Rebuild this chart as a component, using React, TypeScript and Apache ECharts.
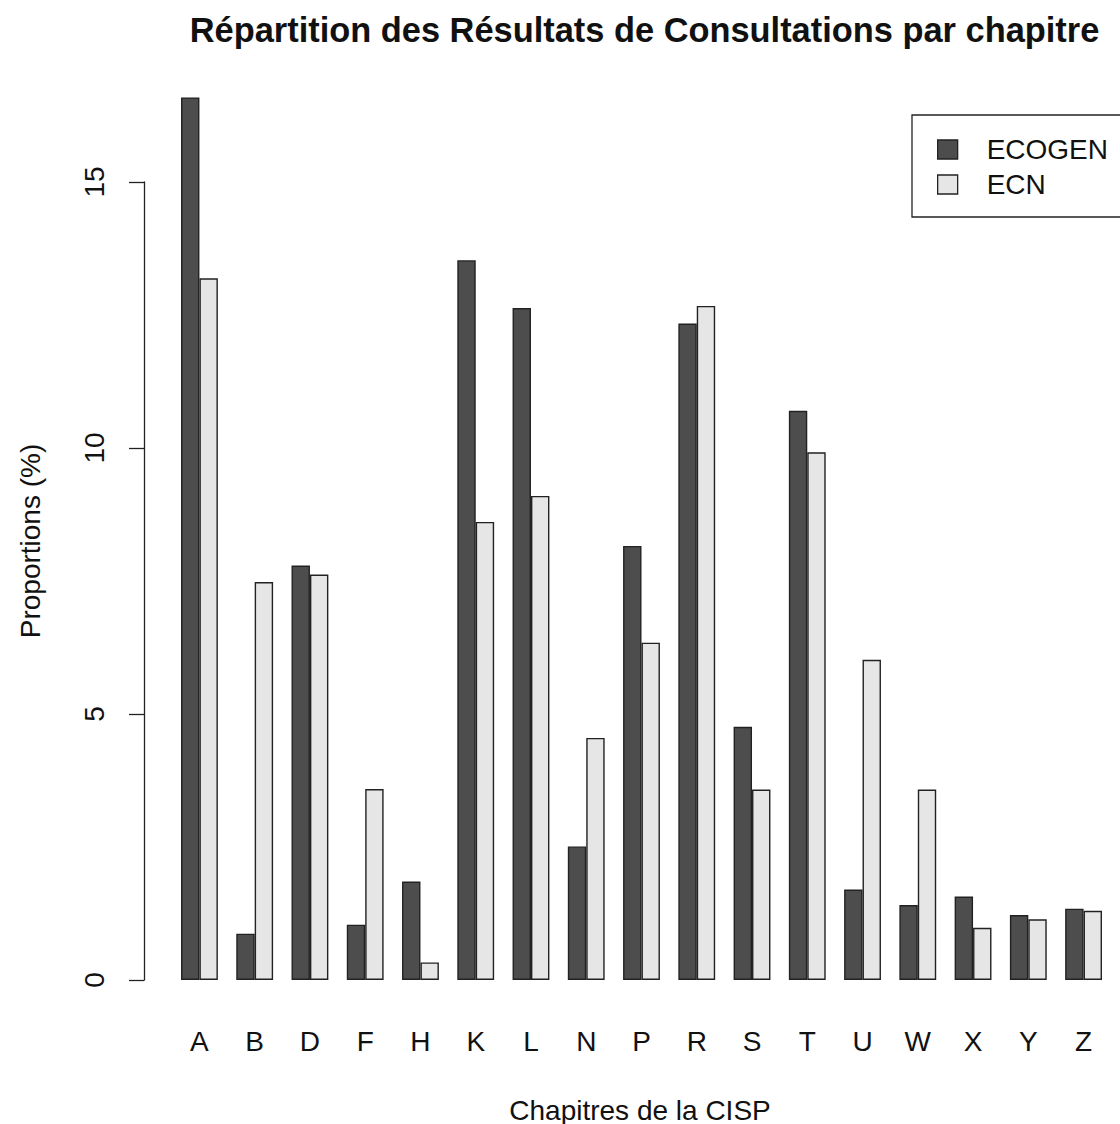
import React, { useEffect, useRef } from "react";
import * as echarts from "echarts";

const categories = ["A", "B", "D", "F", "H", "K", "L", "N", "P", "R", "S", "T", "U", "W", "X", "Y", "Z"];
const ecogen = [16.59, 0.87, 7.79, 1.04, 1.85, 13.53, 12.63, 2.51, 8.16, 12.34, 4.76, 10.7, 1.7, 1.41, 1.57, 1.22, 1.34];
const ecn = [13.19, 7.48, 7.62, 3.59, 0.33, 8.61, 9.1, 4.55, 6.34, 12.67, 3.58, 9.92, 6.02, 3.58, 0.98, 1.14, 1.3];
const seriesNames = ["ECOGEN", "ECN"];
const yTickMin = 0;
const yTickMax = 15;
const yTickStep = 5;

const FONT = "'Liberation Sans', Arial, Helvetica, sans-serif";
const TXT = "#111";

export default function App() {
  const ref = useRef<HTMLDivElement>(null);
  useEffect(() => {
    document.body.style.margin = "0";
    if (!ref.current) return;
    const chart = echarts.init(ref.current, undefined, { renderer: "svg" });
    const barBorder = { borderColor: "#222", borderWidth: 1.4 };
    chart.setOption({
      animation: false,
      backgroundColor: "#fff",
      grid: [
        { left: 171.8, top: 75.6, width: 939.4, height: 904.4 },
        { left: 171.8, top: 182, width: 939.4, height: 798 },
      ],
      xAxis: [
        {
          type: "category",
          gridIndex: 0,
          data: categories,
          axisLine: { show: false },
          axisTick: { show: false },
          axisLabel: { margin: 47, fontSize: 28, fontFamily: FONT, color: TXT },
        },
        { type: "value", gridIndex: 1, show: false },
      ],
      yAxis: [
        { type: "value", gridIndex: 0, min: 0, max: 17, show: false },
        {
          type: "value",
          gridIndex: 1,
          min: yTickMin,
          max: yTickMax,
          interval: yTickStep,
          offset: 27.8,
          axisLine: { show: true, onZero: false, lineStyle: { color: "#222", width: 1.3 } },
          axisTick: { show: true, length: 15, lineStyle: { color: "#222", width: 1.3 } },
          axisLabel: { rotate: 90, margin: 36, fontSize: 28, fontFamily: FONT, color: TXT },
          splitLine: { show: false },
        },
      ],
      legend: {
        data: seriesNames,
        orient: "vertical",
        left: 912,
        top: 115,
        icon: "rect",
        padding: [20.5, 20, 18.5, 25],
        itemGap: 7,
        itemWidth: 20,
        itemHeight: 19,
        borderColor: "#222",
        borderWidth: 1.3,
        itemStyle: { borderColor: "#222", borderWidth: 1.3 },
        textStyle: { fontSize: 28, fontFamily: FONT, color: TXT, padding: [0, 0, 0, 24] },
      },
      series: [
        {
          name: seriesNames[0],
          type: "bar",
          data: ecogen,
          barWidth: 18.42,
          barGap: "0%",
          itemStyle: { color: "#4D4D4D", ...barBorder },
        },
        {
          name: seriesNames[1],
          type: "bar",
          data: ecn,
          barWidth: 18.42,
          barGap: "0%",
          itemStyle: { color: "#E6E6E6", ...barBorder },
        },
      ],
      graphic: [
        {
          type: "text",
          x: 644.5,
          y: 30,
          style: {
            text: "Répartition des Résultats de Consultations par chapitre",
            fontSize: 34.4,
            fontWeight: "bold",
            fontFamily: FONT,
            fill: TXT,
            align: "center",
            verticalAlign: "middle",
          },
        },
        {
          type: "text",
          x: 640,
          y: 1110,
          style: {
            text: "Chapitres de la CISP",
            fontSize: 28,
            fontFamily: FONT,
            fill: TXT,
            align: "center",
            verticalAlign: "middle",
          },
        },
        {
          type: "text",
          x: 30,
          y: 541,
          rotation: Math.PI / 2,
          style: {
            text: "Proportions (%)",
            fontSize: 28,
            fontFamily: FONT,
            fill: TXT,
            align: "center",
            verticalAlign: "middle",
          },
        },
      ],
    });
    return () => chart.dispose();
  }, []);
  return <div ref={ref} style={{ width: 1120, height: 1124 }} />;
}
